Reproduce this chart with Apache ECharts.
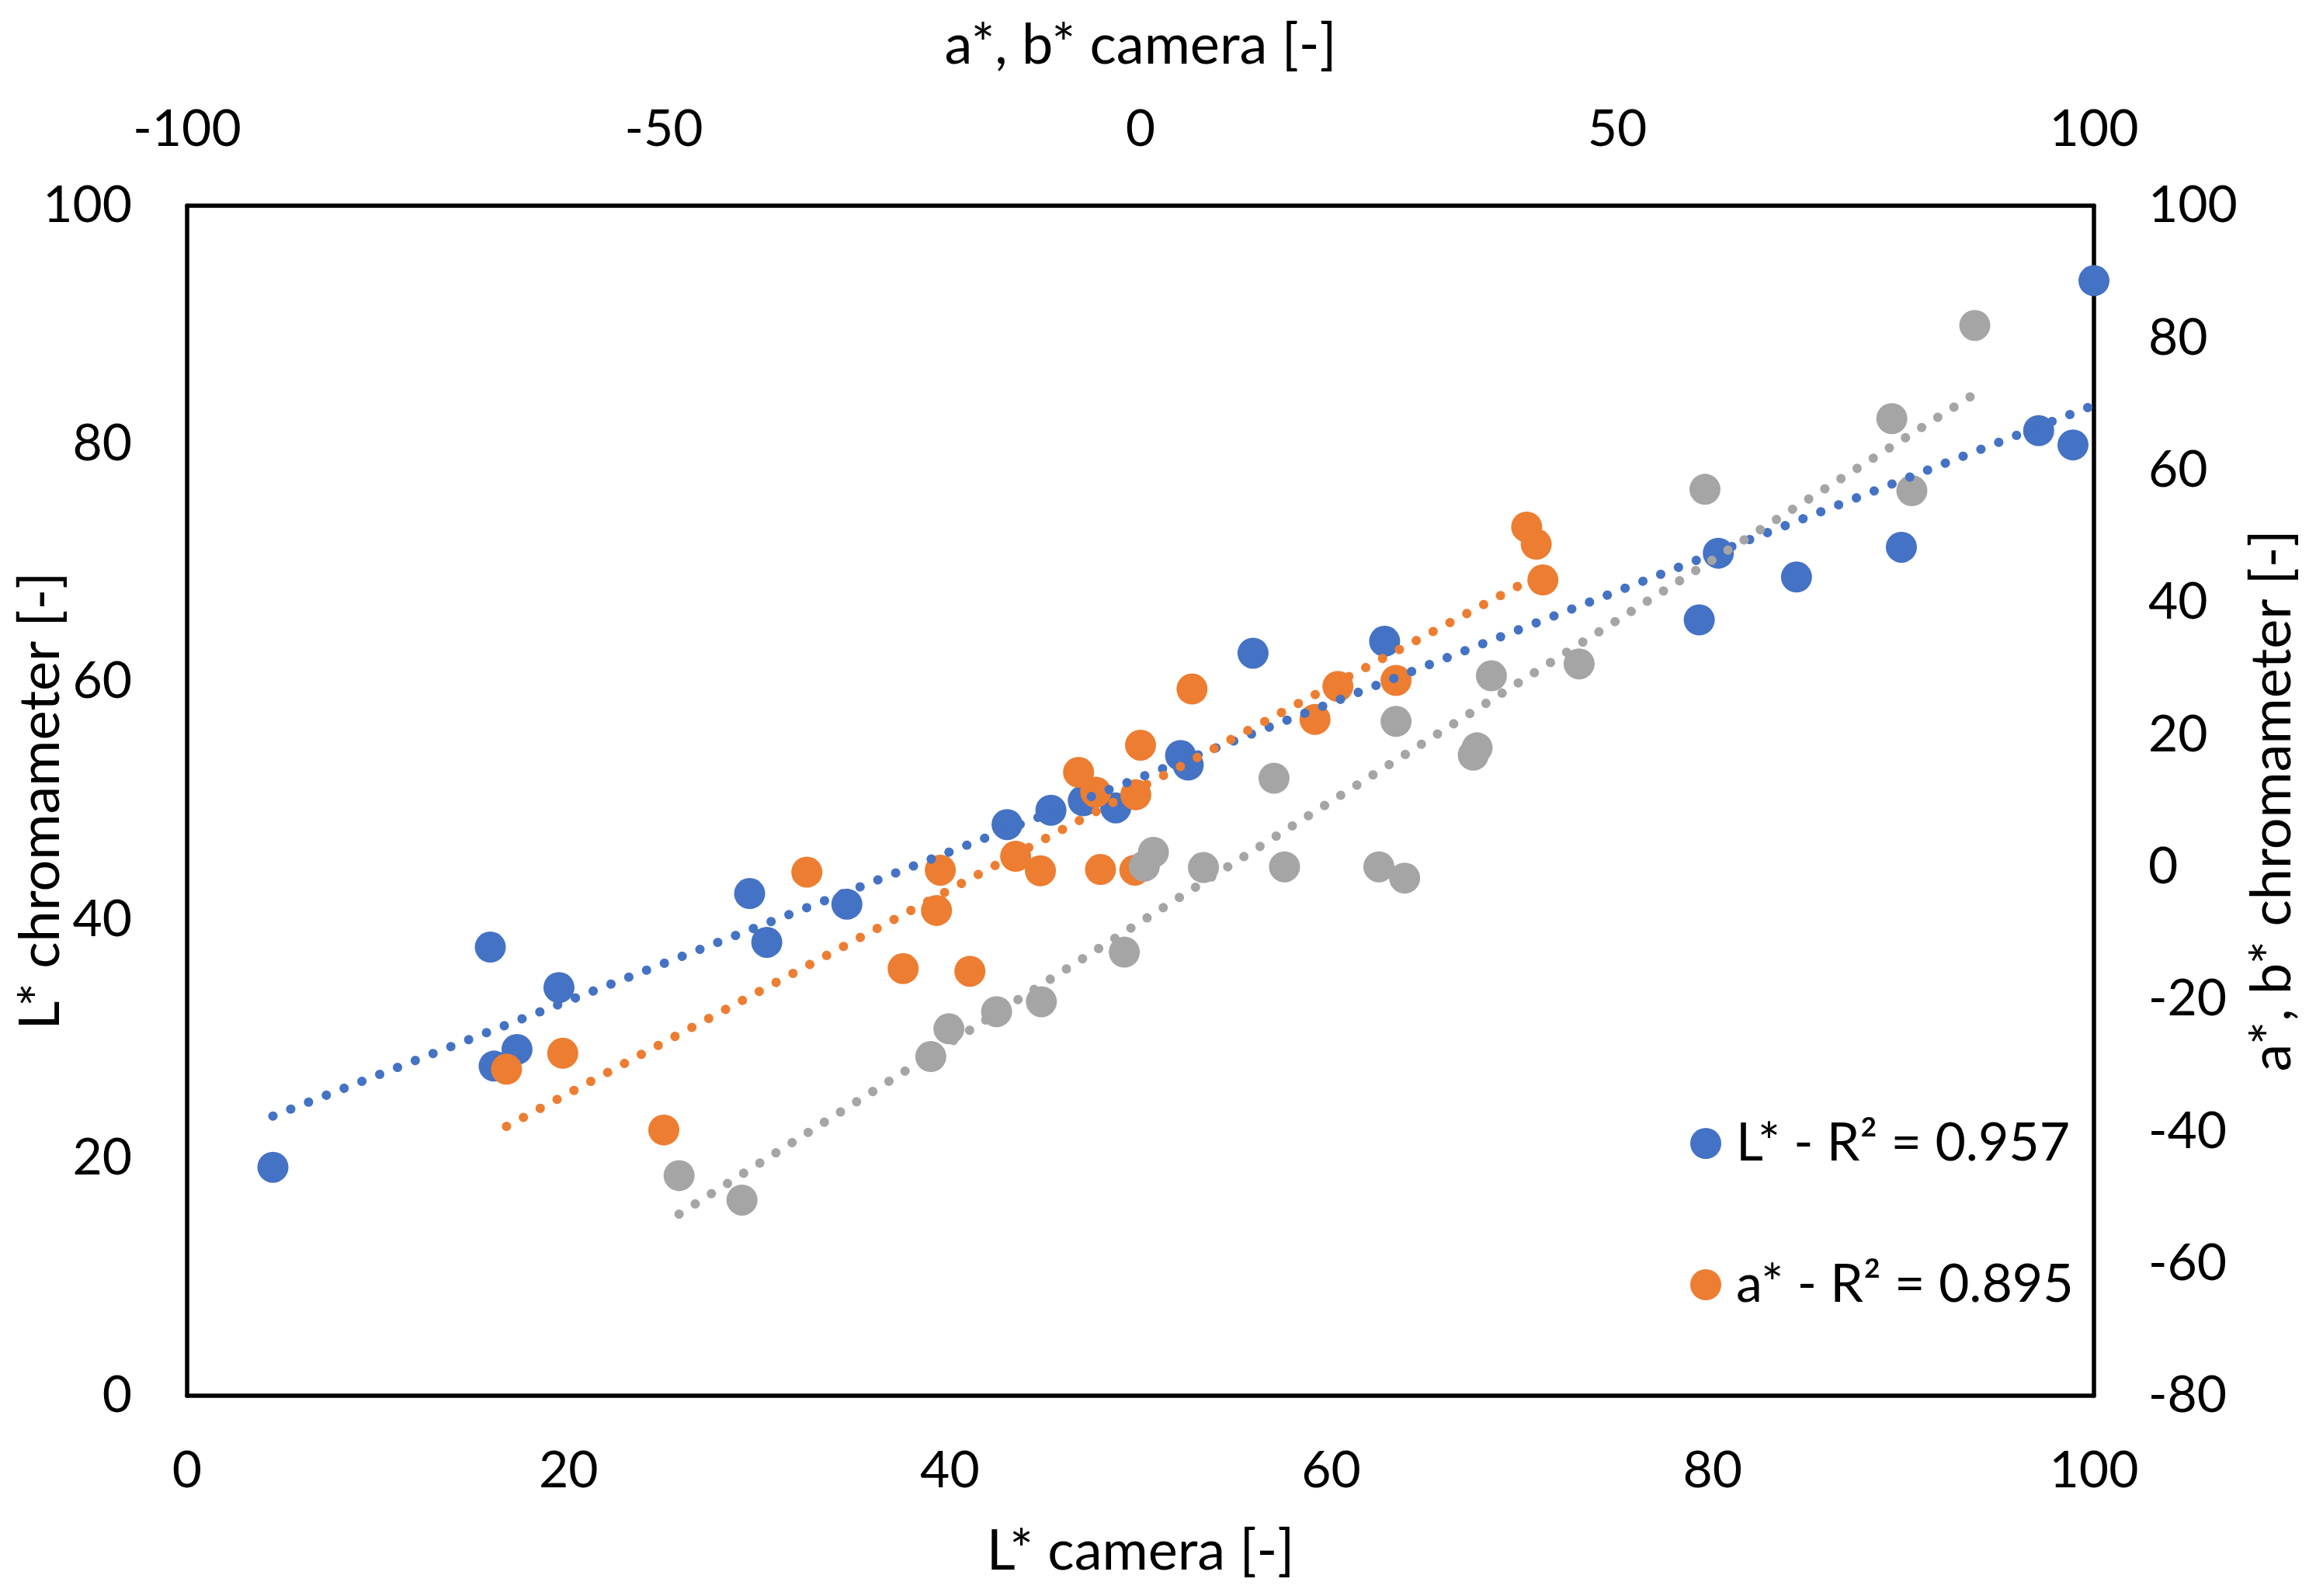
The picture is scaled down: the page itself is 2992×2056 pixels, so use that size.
<!DOCTYPE html>
<html><head><meta charset="utf-8">
<script src="https://cdn.jsdelivr.net/npm/echarts@6/dist/echarts.min.js"></script>
<style>html,body{margin:0;padding:0;background:#fff}#c{width:2992px;height:2056px}</style>
</head><body><div id="c"></div>
<script>
// L* : camera (bottom axis) vs chromameter (left axis)
const lCamera = [4.5, 15.9, 16.1, 17.3, 19.5, 29.5, 30.4, 34.6, 43.0, 45.3, 47.0, 48.7, 52.1, 52.5, 55.9, 62.8, 79.3, 80.3, 84.4, 89.9, 97.1, 98.9, 100.0];
const lChrom  = [19.2, 37.7, 27.7, 29.1, 34.3, 42.2, 38.1, 41.3, 48.0, 49.2, 50.0, 49.4, 53.8, 53.0, 62.4, 63.4, 65.2, 70.8, 68.8, 71.3, 81.1, 79.9, 93.7];
// a* : camera (top axis) vs chromameter (right axis)
const aCamera = [-66.5, -60.6, -50.0, -35.0, -24.9, -21.4, -21.0, -17.9, -13.1, -10.5, -6.5, -4.7, -4.2, -0.6, -0.5, 0.0, 5.4, 18.3, 20.7, 26.8, 40.5, 41.5, 42.2];
const aChrom  = [-30.6, -28.2, -39.8, -0.8, -15.4, -6.6, -0.5, -15.8, 1.6, -0.6, 14.3, 11.3, -0.4, -0.5, 10.9, 18.4, 26.9, 22.3, 27.3, 28.2, 51.4, 48.8, 43.4];
// b* : camera (top axis) vs chromameter (right axis)
const bCamera = [-48.4, -41.8, -22.0, -20.1, -15.1, -10.4, -1.7, 0.4, 1.35, 6.6, 14.0, 15.1, 25.0, 26.8, 27.7, 34.9, 35.3, 36.8, 46.0, 59.2, 78.8, 80.9, 87.5];
const bChrom  = [-46.7, -50.4, -28.7, -24.5, -21.9, -20.4, -12.9, 0.1, 2.2, -0.1, 13.4, 0.0, 0.0, 22.0, -1.7, 16.9, 18.0, 28.9, 30.7, 57.1, 67.8, 56.9, 81.9];

const seriesNames = ['L* - R² = 0.957', 'a* - R² = 0.895', 'b*'];
const colors = ['#4472C4', '#ED7D31', '#A5A5A5'];
const bottomTicks = {min: 0, max: 100, interval: 20};
const topTicks = {min: -100, max: 100, interval: 50};
const leftTicks = {min: 0, max: 100, interval: 20};
const rightTicks = {min: -80, max: 100, interval: 20};

function pairs(xs, ys) { return xs.map((x, i) => [x, ys[i]]); }
function trend(xs, ys) {
  const n = xs.length;
  const mx = xs.reduce((a, b) => a + b, 0) / n;
  const my = ys.reduce((a, b) => a + b, 0) / n;
  let sxy = 0, sxx = 0;
  for (let i = 0; i < n; i++) { sxy += (xs[i] - mx) * (ys[i] - my); sxx += (xs[i] - mx) ** 2; }
  const b = sxy / sxx, a = my - b * mx;
  const x0 = Math.min(...xs), x1 = Math.max(...xs);
  return [[x0, a + b * x0], [x1, a + b * x1]];
}

const FONT = 'Lato';
const lab = {color: '#000', fontSize: 66, fontFamily: FONT};
const nameStyle = {color: '#000', fontSize: 72, fontFamily: FONT};
const axLine = {show: true, onZero: false, lineStyle: {color: '#000', width: 5.5}};
const common = {nameLocation: 'middle', nameMoveOverlap: false, nameTextStyle: nameStyle, axisLine: axLine,
  axisTick: {show: false}, splitLine: {show: false}};

function scatter(name, xs, ys, xi, yi, c) {
  return {name, type: 'scatter', xAxisIndex: xi, yAxisIndex: yi, data: pairs(xs, ys),
    symbol: 'circle', symbolSize: 40, itemStyle: {color: c, opacity: 1}, z: 3};
}
function trendLine(xs, ys, xi, yi, c) {
  return {type: 'line', xAxisIndex: xi, yAxisIndex: yi, data: trend(xs, ys), symbol: 'none',
    silent: true, z: 4, lineStyle: {color: c, width: 12, type: [0.1, 24.5], cap: 'round'}};
}

const chart = echarts.init(document.getElementById('c'), null, {renderer: 'canvas'});
chart.setOption({
  animation: false,
  backgroundColor: '#fff',
  grid: {left: 241, right: 295, top: 265, bottom: 258, containLabel: false, outerBoundsMode: 'none'},
  xAxis: [
    {type: 'value', position: 'bottom', ...bottomTicks, name: 'L* camera [-]', nameGap: 165, ...common,
      axisLabel: {...lab, margin: 64}},
    {type: 'value', position: 'top', ...topTicks, name: 'a*, b* camera [-]', nameGap: 170, ...common,
      axisLabel: {...lab, margin: 65}}
  ],
  yAxis: [
    {type: 'value', position: 'left', ...leftTicks, name: 'L* chromameter [-]', nameGap: 152, ...common,
      axisLabel: {...lab, margin: 71}},
    {type: 'value', position: 'right', ...rightTicks, name: 'a*, b* chromameter [-]', nameGap: 194, ...common,
      axisLabel: {...lab, margin: 70}}
  ],
  legend: {data: [seriesNames[0], seriesNames[1]], orient: 'vertical', left: 2172, top: 1434,
    itemWidth: 40, itemHeight: 40, itemGap: 114, icon: 'circle', selectedMode: false,
    textStyle: {color: '#000', fontSize: 68, fontFamily: FONT, lineHeight: 66, padding: [0, 0, 0, 14]}},
  series: [
    scatter(seriesNames[0], lCamera, lChrom, 0, 0, colors[0]),
    scatter(seriesNames[1], aCamera, aChrom, 1, 1, colors[1]),
    scatter(seriesNames[2], bCamera, bChrom, 1, 1, colors[2]),
    trendLine(lCamera, lChrom, 0, 0, colors[0]),
    trendLine(aCamera, aChrom, 1, 1, colors[1]),
    trendLine(bCamera, bChrom, 1, 1, colors[2])
  ]
});
</script></body></html>
